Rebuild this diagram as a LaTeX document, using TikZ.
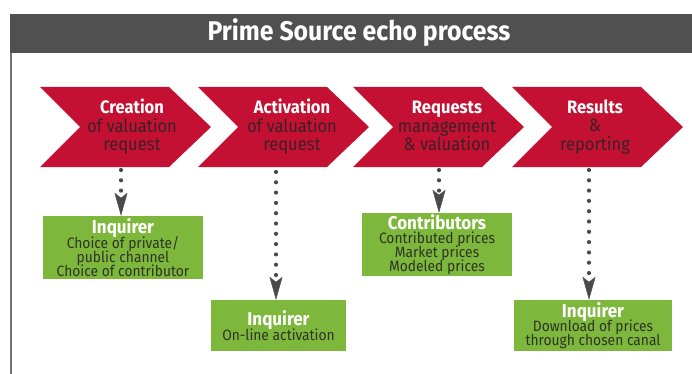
\documentclass[tikz,border=0pt]{standalone}
\usepackage{fontspec}
\setmainfont{Fira Sans}
\newfontfamily\cond[FakeStretch=0.92]{Fira Sans}
\usetikzlibrary{arrows.meta}
\definecolor{psred}{HTML}{C41033}
\definecolor{psgray}{HTML}{505050}
\definecolor{psgreen}{HTML}{7DB83C}
\definecolor{psdark}{HTML}{3A2126}
\definecolor{pstext}{HTML}{2E3325}
\definecolor{psarrow}{HTML}{4A4A4A}
\newcommand\tightlines{\lineskiplimit -30pt\relax}
\newcommand\gt[1]{{\color{white}\bfseries\fontsize{18.5}{17}\selectfont #1}\\[0.5pt]}
\begin{document}
\begin{tikzpicture}[x=1pt,y=-1pt,
  chev/.style={fill=psred},
  chevtext/.style={align=center, font=\cond\fontsize{18}{18.5}\selectfont\tightlines, text=psdark, inner sep=0pt},
  gbox/.style={fill=psgreen, inner sep=0pt, align=center, text=pstext, font=\cond\fontsize{15}{14}\selectfont\tightlines},
  dotarrow/.style={draw=psarrow, line width=4.2pt, line cap=round, dash pattern=on 0pt off 10.3pt,
    -{Stealth[length=23pt,width=13pt,inset=5pt,line width=0.4pt,fill=psarrow]}}
]
\useasboundingbox (0,0) rectangle (692,374);
\fill[psgray] (10,14) rectangle (692,53);
\node[font=\cond\fontsize{27}{27}\selectfont\bfseries, text=white, inner sep=0pt] (title) at (359,33) {Prime Source echo process};
\draw[psgray!80, line width=1.4pt] (11,53) -- (11,374);
\foreach \L in {40,198,353,512}{
  \fill[chev] (\L,87) -- ++(129,0) -- ++(42,40) -- ++(-42,40) -- ++(-129,0) -- ++(40,-40) -- cycle;
}
\node[chevtext] (t1) at (132,127) {{\color{white}\bfseries Creation}\\of valuation\\request};
\node[chevtext] (t2) at (292,127) {{\color{white}\bfseries Activation}\\of valuation\\request};
\node[chevtext] (t3) at (447,126) {{\color{white}\bfseries Requests}\\management\\\& valuation};
\node[chevtext] (t4) at (595,127) {{\color{white}\bfseries Results}\\\&\\reporting};

\node[gbox, minimum width=160pt, minimum height=63pt] (g1) at (123,247.5)
  {\gt{Inquirer}Choice of private/\\public channel\\Choice of contributor};
\node[gbox, minimum width=135pt, minimum height=51pt] (g2) at (278.5,325.5)
  {\gt{Inquirer}On-line activation};
\node[gbox, minimum width=150pt, minimum height=63pt] (g3) at (437,244.5)
  {\gt{Contributors}Contributed prices\\Market prices\\Modeled prices};
\node[gbox, minimum width=158pt, minimum height=51pt] (g4) at (593,325.5)
  {\gt{Inquirer}Download of prices\\through chosen canal};

\coordinate (a1) at (121,170);
\coordinate (a2) at (276,172);
\coordinate (a3) at (439,170);
\coordinate (a4) at (589,170);
\draw[dotarrow] (a1) -- (a1 |- g1.north);
\draw[dotarrow] (a2) -- (a2 |- g2.north);
\draw[dotarrow] (a3) -- (a3 |- g3.north);
\draw[dotarrow] (a4) -- (a4 |- g4.north);
\end{tikzpicture}
\end{document}
